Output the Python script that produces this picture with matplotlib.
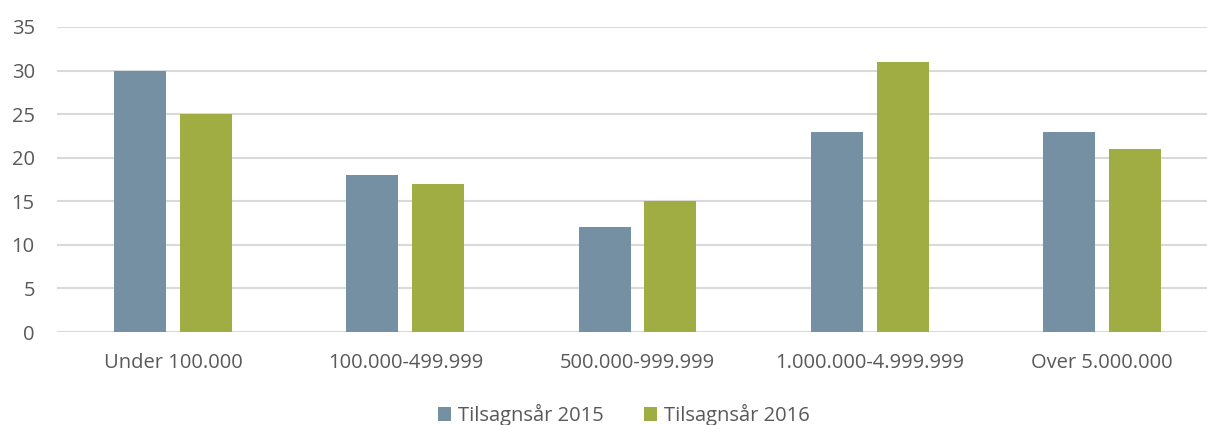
import matplotlib
matplotlib.use("Agg")
import matplotlib.pyplot as plt
import numpy as np

categories = ["Under 100.000", "100.000-499.999", "500.000-999.999", "1.000.000-4.999.999", "Over 5.000.000"]
series_names = ["Tilsagnsår 2015", "Tilsagnsår 2016"]
values_2015 = [30, 18, 12, 23, 23]
values_2016 = [25, 17, 15, 31, 21]
yticks = [0, 5, 10, 15, 20, 25, 30, 35]

colors = ["#7490A2", "#A0AD43"]
text_color = "#595959"

plt.rcParams['font.family'] = ['Open Sans', 'DejaVu Sans']

fig = plt.figure(figsize=(12.07, 4.25), dpi=100)
ax = fig.add_axes([57/1207, 93/425, 1161/1207, 305/425])

x = np.arange(len(categories))
w = 0.224
off = 0.142
ax.bar(x - off, values_2015, width=w, color=colors[0], label=series_names[0], zorder=3)
ax.bar(x + off, values_2016, width=w, color=colors[1], label=series_names[1], zorder=3)

ax.set_xlim(-0.5, len(categories) - 0.5)
ax.set_ylim(0, 35)
ax.set_yticks(yticks)
ax.set_xticks(x)
ax.set_xticklabels(categories)
ax.yaxis.grid(True, color="#D9D9D9", linewidth=1.5, zorder=0)
ax.set_axisbelow(True)
for s in ax.spines.values():
    s.set_visible(False)
ax.tick_params(axis='both', length=0, colors=text_color, labelsize=14.5)
ax.tick_params(axis='x', pad=15)
ax.tick_params(axis='y', pad=16)

leg = fig.legend(loc='center', bbox_to_anchor=(624/1207, 1 - 415/425), ncol=2, frameon=False,
                 fontsize=14.5, handlelength=0.65, handleheight=0.65, handletextpad=0.35,
                 columnspacing=2.0, labelcolor=text_color)

fig.savefig("out.png", dpi=100)
